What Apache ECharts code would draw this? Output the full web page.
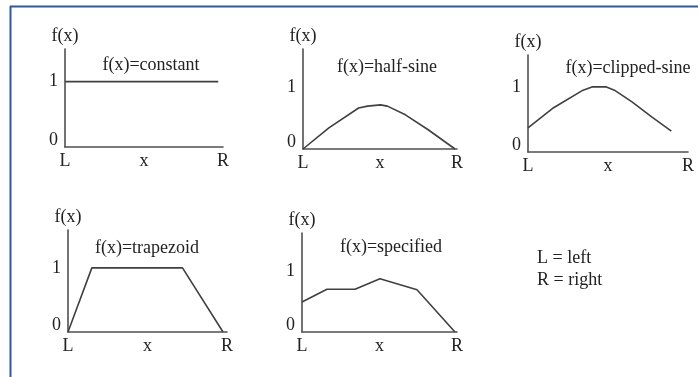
<!DOCTYPE html>
<html>
<head>
<meta charset="utf-8">
<script src="https://cdn.jsdelivr.net/npm/echarts@6.0.0/dist/echarts.min.js"></script>
<style>
  html, body { margin: 0; padding: 0; background: #fff; }
  #main { width: 698px; height: 377px; }
</style>
</head>
<body>
<div id="main"></div>
<script>
// shape names shown above each small plot
var shapeNames = ['f(x)=constant', 'f(x)=half-sine', 'f(x)=clipped-sine', 'f(x)=trapezoid', 'f(x)=specified'];

// x as fraction of the L..R span, y as f(x)
var constantX = [0, 0.97];
var constantY = [1, 1];

var halfSineX = [0, 0.168, 0.361, 0.419, 0.503, 0.548, 0.665, 0.813, 0.987];
var halfSineY = [0, 0.34, 0.66, 0.69, 0.71, 0.69, 0.55, 0.31, 0];

var clippedX = [0, 0.16, 0.344, 0.4, 0.49, 0.54, 0.65, 0.773, 0.896];
var clippedY = [0.37, 0.68, 0.95, 1, 1, 0.95, 0.77, 0.54, 0.32];

var trapezoidX = [0, 0.15, 0.72, 0.975];
var trapezoidY = [0, 1, 1, 0];

var specifiedX = [0, 0.161, 0.342, 0.503, 0.742, 0.987];
var specifiedY = [0.49, 0.70, 0.70, 0.87, 0.69, 0];

var yTicks = [0, 1];
var xTickNames = { 0: 'L', 0.5: 'x', 1: 'R' };
var legendLines = ['L = left', 'R = right'];

var allX = [constantX, halfSineX, clippedX, trapezoidX, specifiedX];
var allY = [constantY, halfSineY, clippedY, trapezoidY, specifiedY];

// grid boxes (left, top, width, height) and y max for each plot
var boxes = [
  [65, 49, 158, 98, 1.5],
  [303, 49, 154, 100, 1.61],
  [528, 55, 160, 97, 1.49],
  [68, 230, 159, 102, 1.59],
  [302, 233, 155, 99, 1.62]
];
// title centers
var titlePos = [[151, 65], [387, 67], [628, 68], [147, 248], [391, 247]];

var FONT = '"Liberation Serif", "Times New Roman", serif';
var SIZE = 18;
var TXT = '#222';
var AX = '#505050';

var chart = echarts.init(document.getElementById('main'));

var grids = [], xAxes = [], yAxes = [], series = [], graphics = [];

boxes.forEach(function (b, i) {
  grids.push({ left: b[0], top: b[1], width: b[2], height: b[3], containLabel: false });
  xAxes.push({
    type: 'value', gridIndex: i, min: 0, max: 1, interval: 0.5,
    axisLine: { show: true, onZero: true, lineStyle: { color: AX, width: 1.6 } },
    axisTick: { show: false },
    splitLine: { show: false },
    axisLabel: {
      show: true, margin: 5, showMinLabel: true, showMaxLabel: true,
      fontFamily: FONT, fontSize: SIZE, color: TXT,
      formatter: function (v) { return xTickNames[v] || ''; }
    }
  });
  yAxes.push({
    type: 'value', gridIndex: i, min: 0, max: b[4], interval: 1,
    name: 'f(x)', nameLocation: 'end', nameGap: 4,
    nameTextStyle: { fontFamily: FONT, fontSize: SIZE, color: TXT, align: 'center', verticalAlign: 'bottom' },
    axisLine: { show: true, lineStyle: { color: AX, width: 1.6 } },
    axisTick: { show: false },
    splitLine: { show: false },
    axisLabel: {
      show: true, margin: 7, showMaxLabel: false,
      fontFamily: FONT, fontSize: SIZE, color: TXT,
      formatter: function (v) {
        if (v === yTicks[0]) return '{z|' + v + '}';
        return yTicks.indexOf(v) >= 0 ? String(v) : '';
      },
      rich: { z: { fontFamily: FONT, fontSize: SIZE, color: TXT, padding: [0, 0, 14, 0] } }
    }
  });
  series.push({
    type: 'line', xAxisIndex: i, yAxisIndex: i,
    data: allX[i].map(function (x, k) { return [x, allY[i][k]]; }),
    symbol: 'none', smooth: false, silent: true,
    lineStyle: { color: '#404040', width: 1.6 }
  });
  graphics.push({
    type: 'text', x: titlePos[i][0], y: titlePos[i][1],
    style: {
      text: shapeNames[i], font: SIZE + 'px ' + FONT, fill: TXT,
      align: 'center', verticalAlign: 'middle'
    }
  });
});

legendLines.forEach(function (t, k) {
  graphics.push({
    type: 'text', x: 537, y: 258 + k * 22,
    style: { text: t, font: SIZE + 'px ' + FONT, fill: TXT, align: 'left', verticalAlign: 'middle' }
  });
});

// blue frame (top and left edges)
graphics.push({
  type: 'line', shape: { x1: 10, y1: 6.5, x2: 698, y2: 6.5 },
  style: { stroke: '#2f5a9a', lineWidth: 2 }
});
graphics.push({
  type: 'line', shape: { x1: 10.5, y1: 6, x2: 10.5, y2: 377 },
  style: { stroke: '#2f5a9a', lineWidth: 2 }
});

chart.setOption({
  animation: false,
  backgroundColor: '#fff',
  grid: grids,
  xAxis: xAxes,
  yAxis: yAxes,
  series: series,
  graphic: graphics
});
</script>
</body>
</html>
